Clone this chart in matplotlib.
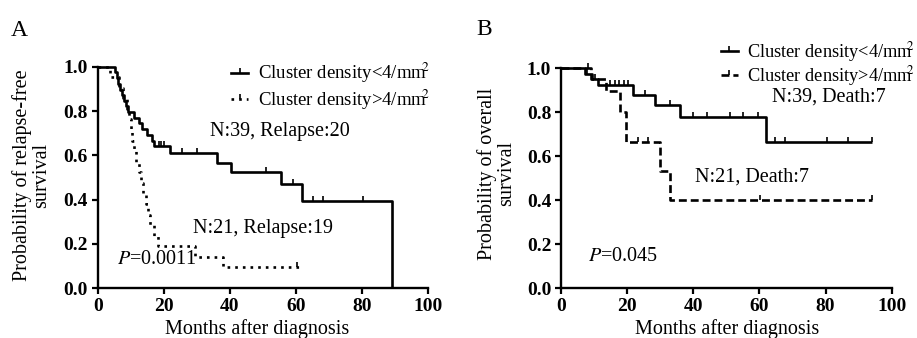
import matplotlib
matplotlib.use("Agg")
import matplotlib.pyplot as plt
from matplotlib.path import Path
from matplotlib.lines import Line2D
import numpy as np

plt.rcParams['font.family'] = ['Liberation Serif', 'DejaVu Serif']
plt.rcParams['mathtext.fontset'] = 'stix'

# ---------------- Data ----------------
# Panel A: relapse-free survival (step times in months, survival after step)
a_low_t = [0, 5.2, 5.8, 6.3, 6.8, 7.5, 8.0, 8.6, 9.3, 11.0, 12.5, 13.5, 15.0, 16.5, 17.2,
           22.0, 36.0, 40.5, 55.5, 62.0, 89.2]
a_low_s = [1.0, 0.974, 0.949, 0.923, 0.897, 0.872, 0.846, 0.821, 0.795, 0.769, 0.744, 0.718,
           0.692, 0.667, 0.641, 0.612, 0.567, 0.523, 0.470, 0.392, 0.0]
a_low_end = 89.2
a_low_cens_t = [18.5, 19.3, 20.2, 25.5, 30.0, 51.0, 59.3, 65.3, 68.2, 80.3]

a_high_t = [0, 3.8, 6.6, 7.8, 8.8, 9.6, 10.0, 10.5, 11.0, 11.6, 12.4, 13.0, 13.8, 14.5,
            15.2, 16.0, 17.0, 18.4, 29.5, 38.0]
a_high_s = [1.0, 0.952, 0.905, 0.857, 0.810, 0.762, 0.714, 0.667, 0.619, 0.571, 0.524,
            0.476, 0.429, 0.381, 0.333, 0.286, 0.238, 0.190, 0.143, 0.095]
a_high_end = 62.0
a_high_cens_t = [60.5]

# Panel B: overall survival
b_low_t = [0, 7.3, 9.3, 11.3, 21.9, 28.4, 36.0, 62.0]
b_low_s = [1.0, 0.974, 0.949, 0.923, 0.877, 0.831, 0.777, 0.666]
b_low_end = 94.0
b_low_cens_t = [8.0, 14.8, 16.2, 17.6, 19.0, 20.4, 25.4, 33.0, 40.0, 44.0, 51.0, 55.1,
                59.7, 64.7, 67.7, 80.3, 86.9, 94.0]

b_high_t = [0, 9.0, 13.5, 17.8, 19.5, 30.0, 33.0]
b_high_s = [1.0, 0.952, 0.895, 0.80, 0.666, 0.533, 0.40]
b_high_end = 94.0
b_high_cens_t = [8.3, 10.2, 23.3, 26.3, 60.2, 94.0]

legend_labels = [r"Cluster density<4/mm$\!\!^2$", r"Cluster density>4/mm$\!\!^2$"]
xticks = [0, 20, 40, 60, 80, 100]
yticks = [0.0, 0.2, 0.4, 0.6, 0.8, 1.0]

# ---------------- Helpers ----------------
tick_marker = Path([(0, 0), (0, 1)])
LW = 1.9
DOTTED = (0, (1.0, 1.9))
DASHED = (0, (3.0, 1.5))


def km_value(ts, ss, t):
    idx = np.searchsorted(np.asarray(ts), t, side='right') - 1
    return ss[max(idx, 0)]


def draw_km(ax, ts, ss, end, cens, ls):
    x = list(ts) + [end]
    y = list(ss) + [ss[-1]]
    ax.step(x, y, where='post', color='black', lw=LW, linestyle=ls, clip_on=False,
            solid_capstyle='butt', dash_capstyle='butt')
    cy = [km_value(ts, ss, c) for c in cens]
    ax.plot(cens, cy, linestyle='none', marker=tick_marker, markersize=7,
            markeredgewidth=1.2, color='black', clip_on=False)


def style_axes(ax):
    ax.set_xlim(0, 100)
    ax.set_ylim(0, 1.0)
    for s in ['top', 'right']:
        ax.spines[s].set_visible(False)
    for s in ['left', 'bottom']:
        ax.spines[s].set_linewidth(1.7)
    ax.set_xticks(xticks)
    ax.set_yticks(yticks)
    ax.set_xticklabels([str(v) for v in xticks])
    ax.set_yticklabels([f"{v:.1f}" for v in yticks])
    ax.tick_params(direction='out', length=4, width=1.6, labelsize=14, pad=3)
    for lab in ax.get_xticklabels() + ax.get_yticklabels():
        lab.set_fontweight('bold')
    ax.set_xlabel("Months after diagnosis", fontsize=14.5)


def legend_handles(ls_second):
    h1 = Line2D([], [], color='black', lw=LW, linestyle='-', marker=tick_marker,
                markersize=7, markeredgewidth=1.2)
    h2 = Line2D([], [], color='black', lw=LW, linestyle=ls_second, marker=tick_marker,
                markersize=7, markeredgewidth=1.2)
    return [h1, h2]


fig = plt.figure(figsize=(9.17, 3.38), dpi=100)
axA = fig.add_axes([0.1065, 0.147, 0.36, 0.6556])
axB = fig.add_axes([0.6118, 0.147, 0.3606, 0.6510])

# Panel A
draw_km(axA, a_low_t, a_low_s, a_low_end, a_low_cens_t, '-')
draw_km(axA, a_high_t, a_high_s, a_high_end, a_high_cens_t, DOTTED)
style_axes(axA)
axA.set_ylabel("Probability of relapse-free\nsurvival", fontsize=14.5, linespacing=1.05)
axA.yaxis.set_label_coords(-0.14, 0.51)
axA.xaxis.set_label_coords(0.484, -0.14)
axA.text(34, 0.707, "N:39, Relapse:20", fontsize=14.5, va='center', ha='left')
axA.text(29, 0.27, "N:21, Relapse:19", fontsize=14.5, va='center', ha='left')
axA.text(5.8, 0.13, "$P$=0.0011", fontsize=14.5, va='center', ha='left')
axA.legend(legend_handles(DOTTED), legend_labels, loc='upper left',
           bbox_to_anchor=(0.405, 1.025), frameon=False, fontsize=13.5,
           handlelength=0.9, handletextpad=0.5, labelspacing=0.1,
           borderpad=0, borderaxespad=0, numpoints=1)

# Panel B
draw_km(axB, b_low_t, b_low_s, b_low_end, b_low_cens_t, '-')
draw_km(axB, b_high_t, b_high_s, b_high_end, b_high_cens_t, DASHED)
style_axes(axB)
axB.set_ylabel("Probability of overall\nsurvival", fontsize=14.5, linespacing=1.05)
axB.yaxis.set_label_coords(-0.135, 0.52)
axB.xaxis.set_label_coords(0.501, -0.14)
axB.text(63.7, 0.871, "N:39, Death:7", fontsize=14.5, va='center', ha='left')
axB.text(40.5, 0.507, "N:21, Death:7", fontsize=14.5, va='center', ha='left')
axB.text(8.3, 0.144, "$P$=0.045", fontsize=14.5, va='center', ha='left')
axB.legend(legend_handles(DASHED), legend_labels, loc='upper left',
           bbox_to_anchor=(0.484, 1.13), frameon=False, fontsize=13.2,
           handlelength=0.9, handletextpad=0.5, labelspacing=0.0,
           borderpad=0, borderaxespad=0, numpoints=1)

fig.text(0.012, 0.94, "A", fontsize=17, va='top', ha='left')
fig.text(0.519, 0.945, "B", fontsize=17, va='top', ha='left')

fig.savefig("out.png", dpi=100)
